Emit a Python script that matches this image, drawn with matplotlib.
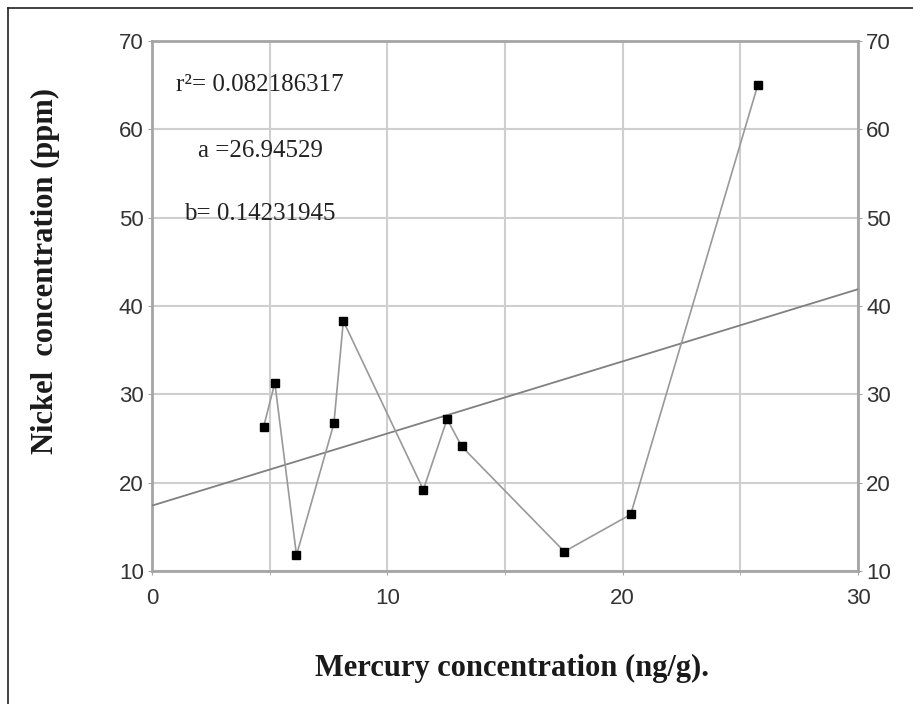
import matplotlib
matplotlib.use("Agg")
import matplotlib.pyplot as plt
from matplotlib import font_manager
from matplotlib.lines import Line2D

# Data
mercury = [4.74, 5.22, 6.14, 7.73, 8.13, 11.53, 12.54, 13.16, 17.52, 20.34, 25.74]
nickel = [26.3, 31.3, 11.8, 26.7, 38.3, 19.2, 27.2, 24.1, 12.2, 16.4, 65.0]
trend_x = [0, 30]
trend_y = [17.4, 41.9]
x_ticks = [0, 10, 20, 30]
x_minor = [5, 15, 25]
y_ticks = [10, 20, 30, 40, 50, 60, 70]
stats_text = ["r\u00b2= 0.082186317", "a =26.94529", "b= 0.14231945"]
stats_y = [65.0, 57.5, 50.4]

names = {f.name for f in font_manager.fontManager.ttflist}
tick_font = "Liberation Sans Narrow" if "Liberation Sans Narrow" in names else "Liberation Sans"

W, H = 913, 704
fig = plt.figure(figsize=(W / 100, H / 100), dpi=100)
ax = fig.add_axes([152 / W, 1 - 571 / H, (858 - 152) / W, (571 - 41) / H])

ax.set_xlim(0, 30)
ax.set_ylim(10, 70)
ax.set_xticks(x_ticks)
ax.set_xticks(x_minor, minor=True)
ax.set_yticks(y_ticks)
ax.grid(True, which="both", color="#cfcfcf", lw=1.5)
ax.set_axisbelow(True)

for s in ax.spines.values():
    s.set_color("#a5a5a5")
    s.set_linewidth(2)

ax.tick_params(axis="y", which="both", left=True, right=True, labelleft=True, labelright=True,
               length=3, color="#a5a5a5", pad=3, labelsize=16, labelcolor="#333333")
ax.tick_params(axis="x", which="both", top=False, length=3, color="#a5a5a5", pad=9,
               labelsize=16, labelcolor="#333333")
for lab in ax.get_xticklabels():
    lab.set_fontfamily(tick_font)
for t in ax.yaxis.get_major_ticks():
    t.label1.set_fontfamily(tick_font)
    t.label2.set_fontfamily(tick_font)

ax.plot(trend_x, trend_y, color="#808080", lw=1.3, zorder=3)
ax.plot(mercury, nickel, color="#999999", lw=1.2, marker="s", ms=6,
        mfc="black", mec="black", zorder=4)

for txt, yy in zip(stats_text, stats_y):
    ax.text(4.6, yy, txt, ha="center", va="center", fontsize=18,
            family="Liberation Serif", color="#222222", zorder=5)

fig.text(512 / W, 1 - 668 / H, "Mercury concentration (ng/g).", ha="center", va="center",
         fontsize=22, fontweight="bold", family="Liberation Serif", color="#1a1a1a")
fig.text(45 / W, 1 - 271 / H, "Nickel  concentration (ppm)", ha="center", va="center",
         rotation=90, fontsize=22, fontweight="bold", family="Liberation Serif", color="#1a1a1a")

# outer frame (top and left edges)
fig.add_artist(Line2D([8 / W, 1], [1 - 8 / H, 1 - 8 / H], transform=fig.transFigure,
                      color="#222222", lw=1.2))
fig.add_artist(Line2D([8 / W, 8 / W], [0, 1 - 8 / H], transform=fig.transFigure,
                      color="#222222", lw=1.2))

fig.savefig("out.png", dpi=100)
